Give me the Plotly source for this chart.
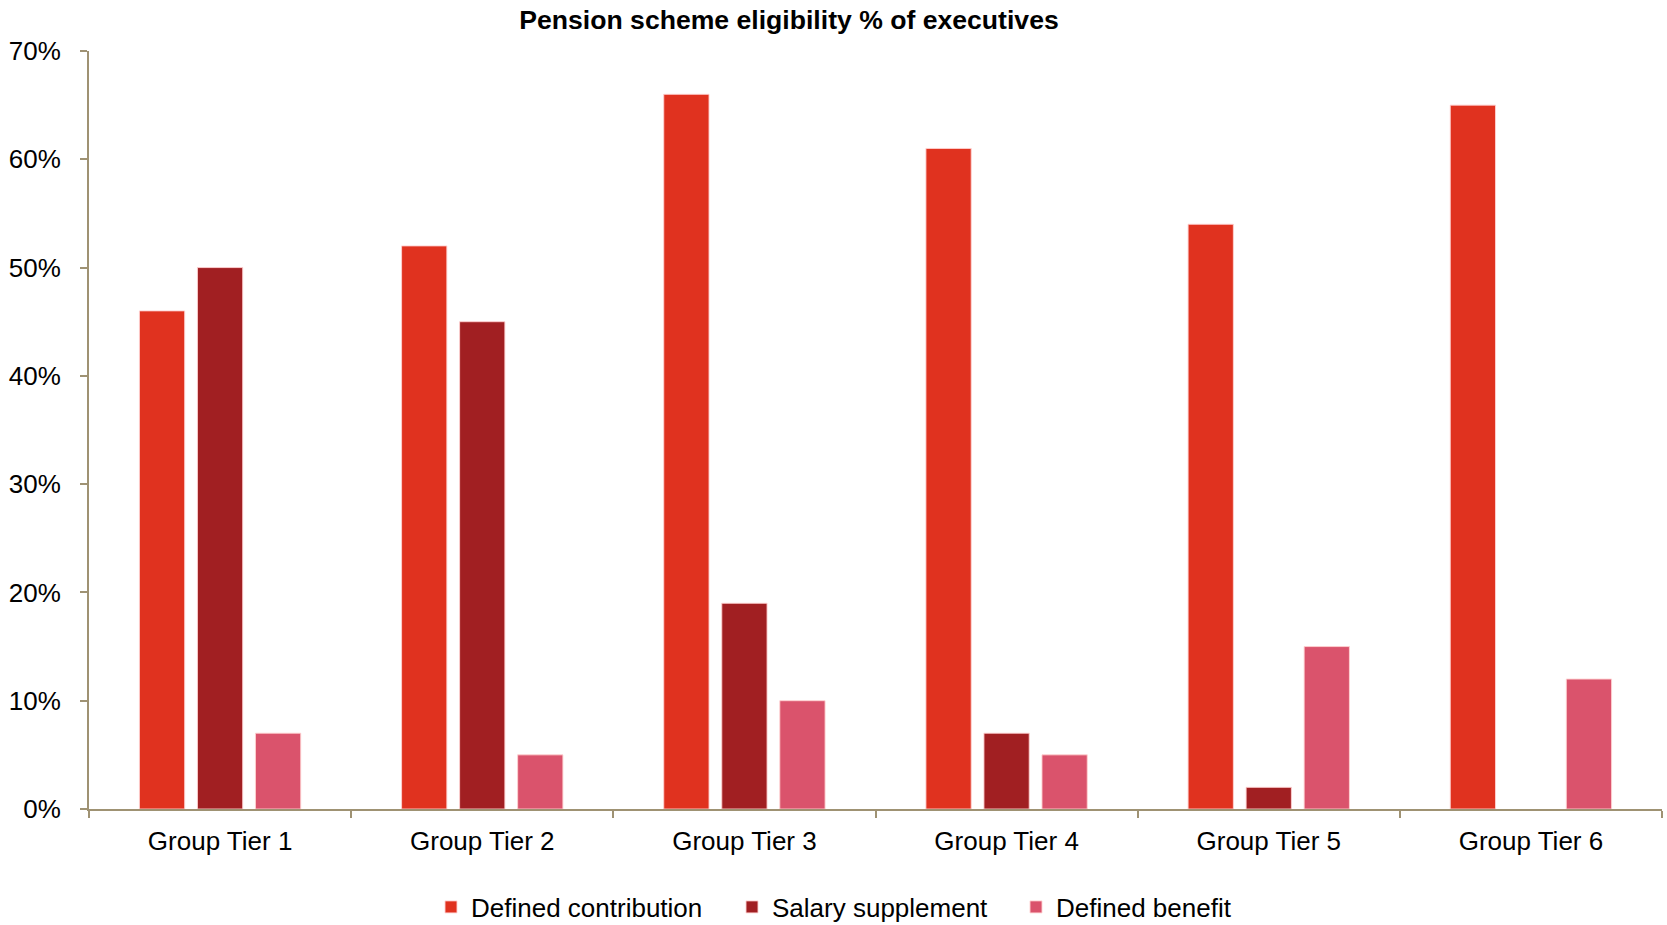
import plotly.graph_objects as go

categories = ["Group Tier 1", "Group Tier 2", "Group Tier 3", "Group Tier 4", "Group Tier 5", "Group Tier 6"]
defined_contribution = [46, 52, 66, 61, 54, 65]
salary_supplement = [50, 45, 19, 7, 2, 0]
defined_benefit = [7, 5, 10, 5, 15, 12]
y_ticks = [0, 10, 20, 30, 40, 50, 60, 70]
y_tick_labels = [f"{v}%" for v in y_ticks]

FONT = "Liberation Sans, Arial, sans-serif"
AXIS = "#9F9273"
OUTLINE = "rgba(255,210,210,0.9)"

fig = go.Figure()
series = [
    ("Defined contribution", defined_contribution, "#E0321F", "legend", 431),
    ("Salary supplement", salary_supplement, "#A11F22", "legend2", 732),
    ("Defined benefit", defined_benefit, "#DA536C", "legend3", 1016),
]
legend_layout = {}
for name, vals, col, lg, lx in series:
    fig.add_trace(go.Bar(
        x=categories, y=vals, name=name, legend=lg,
        marker=dict(color=col,
                    line=dict(color=OUTLINE, width=[0 if v == 0 else 1 for v in vals])),
    ))
    legend_layout[lg] = dict(
        orientation="h", x=lx / 1667, xref="container", xanchor="left",
        y=1 - 907 / 925, yref="container", yanchor="middle",
        font=dict(family=FONT, size=26, color="black"), itemwidth=30,
        bgcolor="rgba(0,0,0,0)", borderwidth=0,
    )

fig.update_layout(
    width=1667, height=925,
    paper_bgcolor="white", plot_bgcolor="white",
    margin=dict(l=89, r=5, t=51, b=116, autoexpand=False),
    barmode="group", bargap=0.336, bargroupgap=0.22,
    font=dict(family=FONT, size=26, color="black"),
    title=dict(text="<b>Pension scheme eligibility % of executives</b>",
               x=789 / 1667, xref="container", xanchor="center",
               y=1 - 20 / 925, yref="container", yanchor="middle",
               font=dict(family=FONT, size=26.6, color="black")),
    showlegend=True,
    **legend_layout,
)
fig.update_yaxes(range=[0, 70], tickvals=y_ticks, ticktext=y_tick_labels,
                 showgrid=False, zeroline=False,
                 showline=True, linecolor=AXIS, linewidth=2,
                 ticks="outside", ticklen=7, tickwidth=2, tickcolor=AXIS,
                 ticklabelstandoff=14, tickfont=dict(size=26))
fig.update_xaxes(showgrid=False, showline=True, linecolor=AXIS, linewidth=2,
                 ticks="outside", tickson="boundaries", ticklen=7, tickwidth=2,
                 tickcolor=AXIS, ticklabelstandoff=8, tickfont=dict(size=26))

fig.write_html("out.html")
